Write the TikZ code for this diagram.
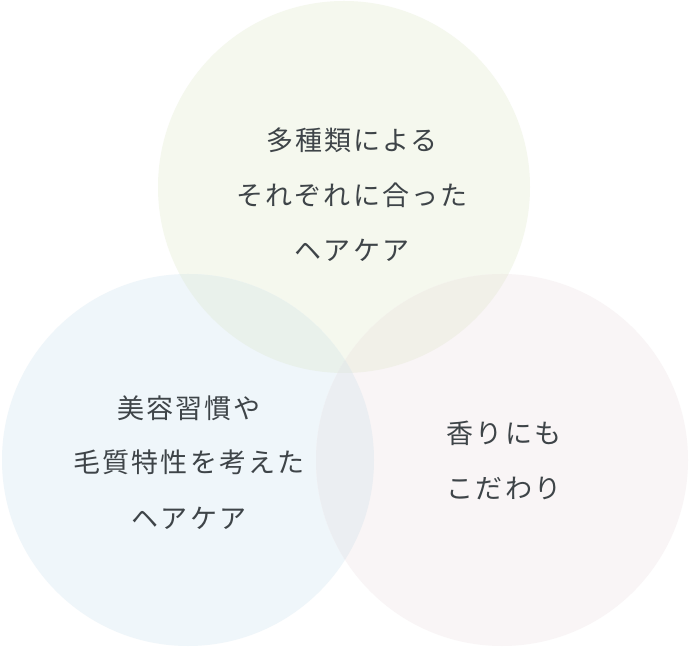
\documentclass[tikz,border=0pt]{standalone}
\usepackage{fontspec}
\newfontfamily\jpfont[LetterSpace=8]{Noto Sans CJK JP}
\definecolor{cTop}{RGB}{245,248,238}
\definecolor{cLeft}{RGB}{239,246,250}
\definecolor{cRight}{RGB}{249,245,246}
\definecolor{cTL}{RGB}{233,241,235}
\definecolor{cTR}{RGB}{241,240,232}
\definecolor{cLR}{RGB}{235,238,242}
\definecolor{cTLR}{RGB}{230,235,233}
\definecolor{txtc}{RGB}{62,68,72}
\begin{document}
\begin{tikzpicture}[x=1pt,y=1pt,
  lbl/.style={text=txtc,font=\jpfont\fontsize{27}{27}\selectfont,inner sep=0pt,anchor=center}]
\useasboundingbox (0,0) rectangle (690,650);
\fill[white] (0,0) rectangle (690,650);
\coordinate (ct) at (344,463);
\coordinate (cl) at (188,190);
\coordinate (cr) at (502,190);
\fill[cTop] (ct) circle (186);
\fill[cLeft] (cl) circle (186);
\fill[cRight] (cr) circle (186);
\begin{scope}
  \clip (ct) circle (186);
  \fill[cTL] (cl) circle (186);
  \fill[cTR] (cr) circle (186);
\end{scope}
\begin{scope}
  \clip (cl) circle (186);
  \fill[cLR] (cr) circle (186);
  \clip (ct) circle (186);
  \fill[cTLR] (cr) circle (186);
\end{scope}
\node[lbl] (t1) at (352,510) {多種類による};
\node[lbl] (t2) at (352,455) {それぞれに合った};
\node[lbl] (t3) at (352,400) {ヘアケア};
\node[lbl] (l1) at (189,242) {美容習慣や};
\node[lbl] (l2) at (189,188) {毛質特性を考えた};
\node[lbl] (l3) at (189,132) {ヘアケア};
\node[lbl] (r1) at (504,217) {香りにも};
\node[lbl] (r2) at (504,162) {こだわり};
\end{tikzpicture}
\end{document}
